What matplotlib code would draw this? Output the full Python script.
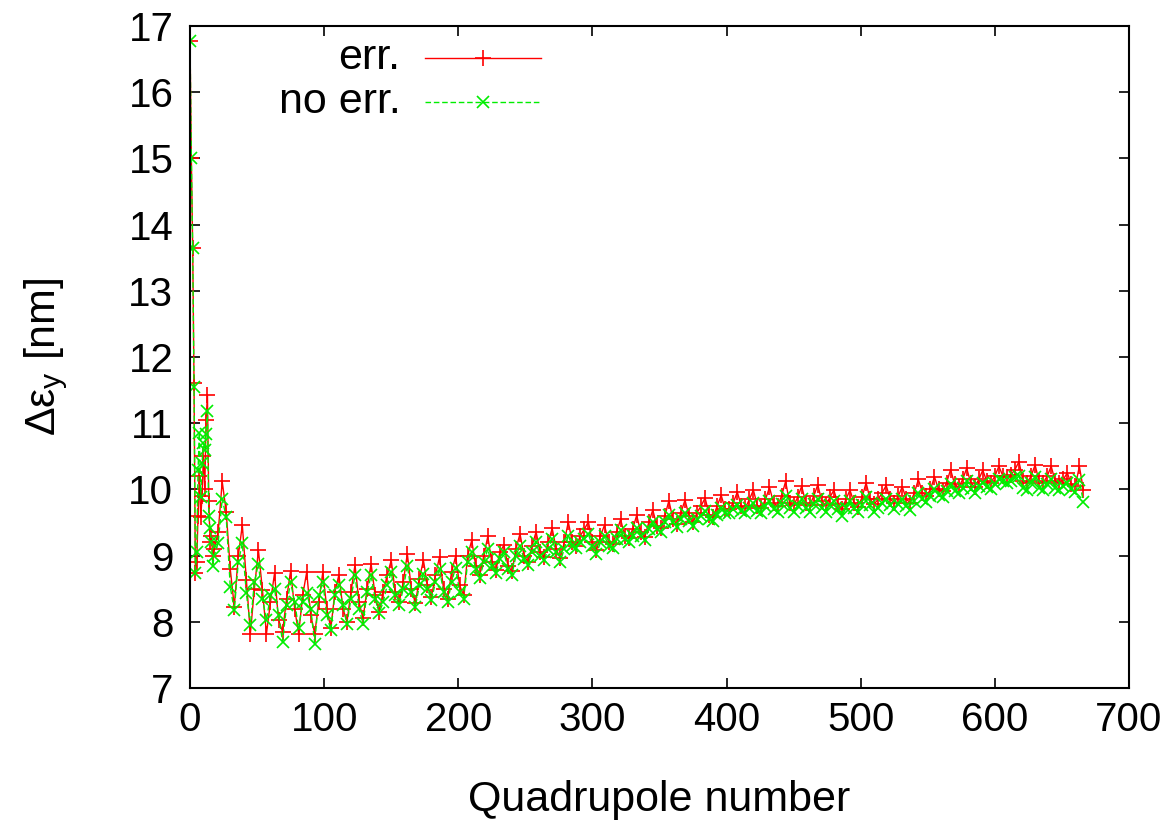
import matplotlib
matplotlib.use('Agg')
import matplotlib.pyplot as plt

plt.rcParams['font.family'] = ['Liberation Sans', 'DejaVu Sans']
plt.rcParams['mathtext.fontset'] = 'custom'
plt.rcParams['mathtext.rm'] = 'Liberation Sans'
plt.rcParams['mathtext.it'] = 'Liberation Sans'

# quadrupole index: every quad at the start, then every third one
quad = list(range(18)) + list(range(18, 667, 3))

# emittance growth with errors [nm]
err_dey = [
    16.78, 15.00, 13.65, 11.60, 8.73, 8.90, 9.60, 10.20, 9.58, 9.90,
    10.50, 10.00, 11.05, 11.43, 9.82, 9.20, 9.30, 8.99,
    9.10, 9.35, 10.12, 9.66, 8.80, 8.23, 9.00, 9.46, 8.63, 7.82,
    8.50, 9.08, 8.48, 7.82, 8.30, 8.73, 8.03, 7.85, 8.35, 8.77,
    8.20, 7.82, 8.40, 8.75, 8.10, 7.82, 8.30, 8.75, 8.20, 7.90,
    8.45, 8.71, 8.20, 8.00, 8.45, 8.86, 8.30, 8.05, 8.50, 8.88,
    8.40, 8.15, 8.45, 8.70, 8.93, 8.45, 8.30, 8.60, 9.03, 8.50,
    8.28, 8.65, 8.93, 8.55, 8.38, 8.70, 8.98, 8.50, 8.35, 8.75,
    8.99, 8.55, 8.40, 9.00, 9.23, 8.85, 8.70, 9.00, 9.29, 8.90,
    8.78, 9.05, 9.16, 8.85, 8.76, 9.10, 9.33, 9.00, 8.90, 9.15,
    9.36, 9.05, 8.98, 9.20, 9.41, 9.10, 8.96, 9.20, 9.51, 9.20,
    9.15, 9.30, 9.40, 9.51, 9.20, 9.08, 9.30, 9.46, 9.20, 9.17,
    9.35, 9.55, 9.30, 9.26, 9.40, 9.61, 9.35, 9.28, 9.50, 9.69,
    9.45, 9.42, 9.60, 9.83, 9.55, 9.48, 9.65, 9.84, 9.60, 9.50,
    9.65, 9.75, 9.87, 9.62, 9.58, 9.75, 9.91, 9.70, 9.70, 9.80,
    9.96, 9.75, 9.72, 9.85, 9.99, 9.75, 9.72, 9.85, 10.03, 9.80,
    9.75, 9.90, 10.12, 9.80, 9.76, 9.88, 10.05, 9.80, 9.76, 9.90,
    10.07, 9.82, 9.76, 9.88, 9.99, 9.78, 9.70, 9.85, 9.99, 9.80,
    9.74, 9.88, 10.10, 9.85, 9.78, 9.85, 9.95, 10.06, 9.85, 9.80,
    9.90, 10.04, 9.85, 9.80, 9.95, 10.15, 9.95, 9.90, 10.00, 10.19,
    10.00, 9.98, 10.10, 10.30, 10.08, 10.03, 10.15, 10.32, 10.10, 10.04,
    10.15, 10.29, 10.12, 10.10, 10.20, 10.35, 10.20, 10.18, 10.22, 10.30,
    10.42, 10.12, 10.10, 10.20, 10.37, 10.12, 10.10, 10.20, 10.35, 10.12,
    10.10, 10.15, 10.25, 10.08, 10.05, 10.35, 9.99,
]

# emittance growth without errors [nm]
noerr_dey = [
    16.78, 15.00, 13.65, 11.55, 8.73, 9.06, 10.30, 10.85, 9.88, 10.40,
    10.70, 10.60, 10.84, 11.18, 9.60, 9.41, 9.20, 8.85,
    9.00, 9.19, 9.86, 9.58, 8.53, 8.18, 8.90, 9.19, 8.43, 7.95,
    8.60, 8.88, 8.35, 8.03, 8.40, 8.50, 8.10, 7.70, 8.25, 8.60,
    8.30, 7.90, 8.30, 8.43, 8.20, 7.67, 8.40, 8.60, 8.10, 7.87,
    8.40, 8.55, 8.25, 7.97, 8.35, 8.71, 8.20, 7.97, 8.45, 8.70,
    8.35, 8.13, 8.30, 8.55, 8.75, 8.40, 8.25, 8.50, 8.85, 8.45,
    8.23, 8.55, 8.72, 8.50, 8.33, 8.60, 8.80, 8.45, 8.30, 8.60,
    8.82, 8.45, 8.35, 8.90, 9.05, 8.80, 8.66, 8.90, 9.10, 8.85,
    8.73, 8.95, 9.05, 8.80, 8.71, 9.00, 9.15, 8.95, 8.86, 9.05,
    9.20, 9.00, 8.93, 9.10, 9.25, 9.05, 8.91, 9.10, 9.30, 9.15,
    9.11, 9.20, 9.25, 9.32, 9.15, 9.03, 9.20, 9.30, 9.15, 9.12,
    9.25, 9.38, 9.25, 9.21, 9.30, 9.42, 9.30, 9.23, 9.40, 9.50,
    9.40, 9.36, 9.50, 9.62, 9.50, 9.43, 9.55, 9.65, 9.52, 9.45,
    9.55, 9.60, 9.68, 9.56, 9.52, 9.62, 9.72, 9.65, 9.64, 9.70,
    9.76, 9.68, 9.65, 9.72, 9.80, 9.68, 9.64, 9.75, 9.82, 9.70,
    9.66, 9.78, 9.90, 9.72, 9.66, 9.75, 9.85, 9.72, 9.66, 9.78,
    9.86, 9.72, 9.66, 9.76, 9.82, 9.70, 9.60, 9.72, 9.82, 9.72,
    9.66, 9.76, 9.88, 9.76, 9.66, 9.72, 9.80, 9.86, 9.76, 9.70,
    9.78, 9.86, 9.75, 9.69, 9.82, 9.95, 9.85, 9.81, 9.90, 10.00,
    9.92, 9.89, 9.98, 10.08, 9.98, 9.94, 10.02, 10.12, 10.00, 9.94,
    10.05, 10.10, 10.04, 10.01, 10.08, 10.15, 10.12, 10.09, 10.12, 10.18,
    10.20, 10.02, 9.99, 10.10, 10.18, 10.02, 9.99, 10.08, 10.15, 10.02,
    9.99, 10.05, 10.10, 10.00, 9.96, 10.14, 9.81,
]

assert len(quad) == len(err_dey) == len(noerr_dey), (len(quad), len(err_dey), len(noerr_dey))

fig = plt.figure(figsize=(11.76, 8.22), dpi=100)
ax = fig.add_axes([190 / 1176, 1 - 688 / 822, 939 / 1176, 662 / 822])

red = '#ff0000'
green = '#00ee00'
ax.plot(quad, err_dey, color=red, lw=1.0, marker='+', ms=11, mew=1.2)
ax.plot(quad, noerr_dey, color=green, lw=1.0, ls=(0, (4, 2)), marker='x', ms=9, mew=1.2)

ax.set_xlim(0, 700)
ax.set_ylim(7, 17)
ax.set_xticks(range(0, 701, 100))
ax.set_yticks(range(7, 18))
ax.tick_params(direction='in', length=7, width=1.2, top=True, right=True,
               labelsize=29)
ax.tick_params(axis='x', pad=9)
ax.tick_params(axis='y', pad=12)
for s in ax.spines.values():
    s.set_linewidth(1.5)

ax.set_xlabel('Quadrupole number', fontsize=31, labelpad=30)
ax.set_ylabel(r'$\Delta\epsilon_\mathrm{y}$ [nm]', fontsize=31, labelpad=42)

# legend, gnuplot style: text right-aligned, sample to the right
tr = ax.transAxes
ax.text(0.224, 0.952, 'err.', transform=tr, ha='right', va='center', fontsize=31)
ax.text(0.224, 0.885, 'no err.', transform=tr, ha='right', va='center', fontsize=31)
ax.plot([0.250, 0.374], [0.952, 0.952], transform=tr, color=red, lw=1.0)
ax.plot([0.312], [0.952], transform=tr, color=red, marker='+', ms=11, mew=1.2)
ax.plot([0.250, 0.374], [0.885, 0.885], transform=tr, color=green, lw=1.0, ls=(0, (4, 2)))
ax.plot([0.312], [0.885], transform=tr, color=green, marker='x', ms=9, mew=1.2)

fig.savefig('out.png', dpi=100)
